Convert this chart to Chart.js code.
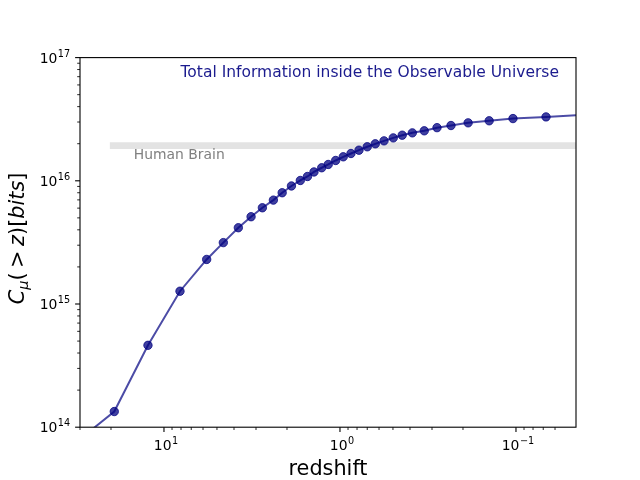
<!DOCTYPE html>
<html>
<head>
<meta charset="utf-8">
<script src="https://cdn.jsdelivr.net/npm/chart.js@4/dist/chart.umd.min.js"></script>
<style>
  body { margin: 0; background: #fff; }
  canvas { display: block; }
</style>
</head>
<body>
<canvas id="grafico" width="640" height="480"></canvas>
<script>
// valores
const redshift = [19.16, 12.33, 8.11, 5.72, 4.60, 3.78, 3.20, 2.76, 2.39, 2.13, 1.887, 1.68, 1.53, 1.405,
  1.27, 1.166, 1.058, 0.958, 0.866, 0.78, 0.70, 0.63, 0.562, 0.498, 0.443, 0.388, 0.332, 0.281,
  0.234, 0.187, 0.142, 0.104, 0.0675];
const bits = [1.34e14, 4.62e14, 1.27e15, 2.30e15, 3.15e15, 4.16e15, 5.11e15, 6.04e15, 6.97e15, 8.0e15,
  9.08e15, 1.006e16, 1.084e16, 1.18e16, 1.276e16, 1.357e16, 1.462e16, 1.566e16, 1.666e16, 1.772e16,
  1.888e16, 1.996e16, 2.11e16, 2.23e16, 2.345e16, 2.45e16, 2.545e16, 2.70e16, 2.81e16, 2.955e16,
  3.07e16, 3.20e16, 3.30e16];

// a curva continua passa dos pontos nas duas pontas
const lineRedshift = [30, ...redshift, 0.0456];
const lineBits = [8e13, ...bits, 3.41e16];

const brainRedshift = [20.3, 0.02];
const brainBits = [1.93e16, 1.93e16];

// rótulos: base "10" + expoente
const xTickValues = [10, 1, 0.1];
const xTickExps = ['1', '0', '−1'];
const yTickValues = [1e14, 1e15, 1e16, 1e17];
const yTickExps = ['14', '15', '16', '17'];

const FONT = "'DejaVu Sans'";

const toXY = (xs, ys) => xs.map((x, i) => ({ x, y: ys[i] }));
const isMajor = v => Math.abs(Math.log10(v) - Math.round(Math.log10(v))) < 1e-9;
const isNice = v => {
  const m = v / Math.pow(10, Math.floor(Math.log10(v) + 1e-9));
  return Math.abs(m - Math.round(m)) < 1e-6;
};

function powerLabel(ctx, exp, x, y, align) {
  const base = '10';
  ctx.font = `13.9px ${FONT}`;
  const wb = ctx.measureText(base).width;
  ctx.font = `9.7px ${FONT}`;
  const we = ctx.measureText(exp).width;
  const w = wb + we + 0.5;
  const left = align === 'right' ? x - w : x - w / 2;
  ctx.textAlign = 'left';
  ctx.textBaseline = 'alphabetic';
  ctx.font = `13.9px ${FONT}`;
  ctx.fillText(base, left, y);
  ctx.font = `9.7px ${FONT}`;
  ctx.fillText(exp, left + wb + 0.5, y - 5.8);
}

// ticks, moldura, textos e rótulo do eixo y
const decor = {
  id: 'decor',
  afterDraw(chart) {
    const { ctx, chartArea: a, scales: { x, y } } = chart;
    ctx.save();
    ctx.strokeStyle = '#000';
    x.ticks.forEach(t => {
      const px = x.getPixelForValue(t.value);
      if (px < a.left - 0.5 || px > a.right + 0.5) return;
      const major = isMajor(t.value);
      ctx.lineWidth = major ? 1.1 : 0.85;
      ctx.beginPath();
      ctx.moveTo(px, a.bottom);
      ctx.lineTo(px, a.bottom + (major ? 4.9 : 2.8));
      ctx.stroke();
    });
    y.ticks.forEach(t => {
      const py = y.getPixelForValue(t.value);
      if (py < a.top - 0.5 || py > a.bottom + 0.5) return;
      const major = isMajor(t.value);
      ctx.lineWidth = major ? 1.1 : 0.85;
      ctx.beginPath();
      ctx.moveTo(a.left, py);
      ctx.lineTo(a.left - (major ? 4.9 : 2.8), py);
      ctx.stroke();
    });
    ctx.lineWidth = 1.1;
    ctx.strokeRect(a.left, a.top, a.right - a.left, a.bottom - a.top);

    ctx.fillStyle = '#000';
    xTickValues.forEach((v, i) => powerLabel(ctx, xTickExps[i], x.getPixelForValue(v) + 2, a.bottom + 23, 'center'));
    yTickValues.forEach((v, i) => powerLabel(ctx, yTickExps[i], a.left - 9.8, y.getPixelForValue(v) + 5, 'right'));

    ctx.textBaseline = 'alphabetic';
    ctx.textAlign = 'left';
    ctx.font = `15.5px ${FONT}`;
    ctx.fillStyle = '#1b1b8e';
    ctx.fillText('Total Information inside the Observable Universe', 180.5, 77);
    ctx.font = `13.9px ${FONT}`;
    ctx.fillStyle = '#808080';
    ctx.fillText('Human Brain', 133.8, 158.7);

    // C_mu(>z)[bits] em estilo mathtext
    const S = 20.8;
    const parts = [
      { t: 'C', f: `italic ${S}px ${FONT}`, dy: 0 },
      { t: 'μ', f: `italic ${S * 0.7}px ${FONT}`, dy: S * 0.22 },
      { t: '(', f: `${S}px ${FONT}`, dy: 0 },
      { t: '>', f: `${S}px ${FONT}`, dy: 0, pad: S * 0.22 },
      { t: 'z', f: `italic ${S}px ${FONT}`, dy: 0 },
      { t: ')', f: `${S}px ${FONT}`, dy: 0 },
      { t: '[', f: `${S}px ${FONT}`, dy: 0 },
      { t: 'bits', f: `italic ${S}px ${FONT}`, dy: 0 },
      { t: ']', f: `${S}px ${FONT}`, dy: 0 }
    ];
    let total = 0;
    parts.forEach(p => {
      ctx.font = p.f;
      p.w = ctx.measureText(p.t).width;
      total += p.w + 2 * (p.pad || 0);
    });
    ctx.translate(23.5, 238.5);
    ctx.rotate(-Math.PI / 2);
    ctx.fillStyle = '#000';
    let cx = -total / 2;
    parts.forEach(p => {
      ctx.font = p.f;
      cx += p.pad || 0;
      ctx.fillText(p.t, cx, p.dy);
      cx += p.w + (p.pad || 0);
    });
    ctx.restore();
  }
};

const tickGrid = {
  display: true,
  drawOnChartArea: false,
  drawTicks: false
};

new Chart(document.getElementById('grafico'), {
  type: 'scatter',
  data: {
    datasets: [
      {
        label: 'Human Brain',
        data: toXY(brainRedshift, brainBits),
        showLine: true,
        borderColor: '#e3e3e3',
        borderWidth: 6.7,
        pointRadius: 0,
        clip: 0,
        order: 3
      },
      {
        label: 'curve',
        data: toXY(lineRedshift, lineBits),
        showLine: true,
        borderColor: 'rgba(0,0,128,0.7)',
        borderWidth: 2,
        pointRadius: 0,
        clip: 0,
        order: 2
      },
      {
        label: 'points',
        data: toXY(redshift, bits),
        showLine: false,
        pointRadius: 4.2,
        backgroundColor: 'rgba(0,0,128,0.75)',
        borderColor: 'rgba(0,0,128,0.75)',
        borderWidth: 1,
        order: 1
      }
    ]
  },
  options: {
    responsive: false,
    animation: false,
    events: [],
    layout: { padding: { top: 57.6, right: 64, left: 0, bottom: 0 } },
    plugins: { legend: { display: false }, tooltip: { enabled: false } },
    scales: {
      x: {
        type: 'logarithmic',
        position: 'bottom',
        reverse: true,
        min: 0.0456,
        max: 30,
        grid: tickGrid,
        border: { display: false },
        afterBuildTicks: s => { s.ticks = s.ticks.filter(t => isNice(t.value)); },
        afterFit: s => { s.height = 52.8; },
        ticks: { display: false },
        title: {
          display: true,
          text: 'redshift',
          color: '#000',
          padding: 0,
          font: { family: FONT, size: 20.8, lineHeight: 1 }
        }
      },
      y: {
        type: 'logarithmic',
        min: 1e14,
        max: 1e17,
        grid: tickGrid,
        border: { display: false },
        afterBuildTicks: s => { s.ticks = s.ticks.filter(t => isNice(t.value)); },
        afterFit: s => { s.width = 80; },
        ticks: { display: false }
      }
    }
  },
  plugins: [decor]
});
</script>
</body>
</html>
